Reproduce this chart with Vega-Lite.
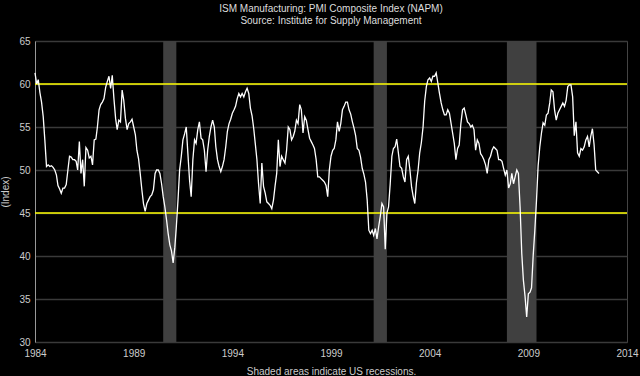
{
"$schema":"https://vega.github.io/schema/vega-lite/v6.json",
"width":592,"height":301,
"autosize":"none",
"padding":{"left":35,"top":41,"right":13,"bottom":34},
"background":"#000000",
"config":{"view":{"stroke":"#444444","strokeWidth":1},"font":"Liberation Sans"},
"title":{"text":["ISM Manufacturing: PMI Composite Index (NAPM)","Source: Institute for Supply Management"],"fontSize":10,"fontWeight":"normal","color":"#dddddd","anchor":"middle","offset":10,"lineHeight":12},
"datasets":{
"rec":[{"start":"1990-07-01","end":"1991-03-01"},{"start":"2001-03-01","end":"2001-11-01"},{"start":"2007-12-01","end":"2009-06-01"}],
"lev":[{"level":45},{"level":60}],
"pmi":[
{"d":"1984-01-01","v":61.3},{"d":"1984-02-01","v":60.0},{"d":"1984-03-01","v":60.5},{"d":"1984-04-01","v":59.0},{"d":"1984-05-01","v":57.9},{"d":"1984-06-01","v":56.2},{"d":"1984-07-01","v":53.5},{"d":"1984-08-01","v":50.4},{"d":"1984-09-01","v":50.6},{"d":"1984-10-01","v":50.4},{"d":"1984-11-01","v":50.5},{"d":"1984-12-01","v":50.3},
{"d":"1985-01-01","v":50.0},{"d":"1985-02-01","v":49.4},{"d":"1985-03-01","v":48.2},{"d":"1985-04-01","v":47.8},{"d":"1985-05-01","v":47.3},{"d":"1985-06-01","v":47.9},{"d":"1985-07-01","v":47.9},{"d":"1985-08-01","v":48.3},{"d":"1985-09-01","v":50.0},{"d":"1985-10-01","v":51.6},{"d":"1985-11-01","v":51.5},{"d":"1985-12-01","v":51.2},
{"d":"1986-01-01","v":51.2},{"d":"1986-02-01","v":51.0},{"d":"1986-03-01","v":50.0},{"d":"1986-04-01","v":53.3},{"d":"1986-05-01","v":49.6},{"d":"1986-06-01","v":51.2},{"d":"1986-07-01","v":48.1},{"d":"1986-08-01","v":52.6},{"d":"1986-09-01","v":52.3},{"d":"1986-10-01","v":51.4},{"d":"1986-11-01","v":51.6},{"d":"1986-12-01","v":50.6},
{"d":"1987-01-01","v":53.5},{"d":"1987-02-01","v":53.6},{"d":"1987-03-01","v":55.0},{"d":"1987-04-01","v":57.0},{"d":"1987-05-01","v":57.6},{"d":"1987-06-01","v":57.9},{"d":"1987-07-01","v":58.3},{"d":"1987-08-01","v":59.6},{"d":"1987-09-01","v":60.3},{"d":"1987-10-01","v":60.9},{"d":"1987-11-01","v":59.5},{"d":"1987-12-01","v":61.0},
{"d":"1988-01-01","v":58.3},{"d":"1988-02-01","v":56.0},{"d":"1988-03-01","v":54.7},{"d":"1988-04-01","v":55.8},{"d":"1988-05-01","v":55.6},{"d":"1988-06-01","v":59.3},{"d":"1988-07-01","v":58.1},{"d":"1988-08-01","v":56.0},{"d":"1988-09-01","v":54.7},{"d":"1988-10-01","v":55.4},{"d":"1988-11-01","v":55.6},{"d":"1988-12-01","v":55.9},
{"d":"1989-01-01","v":55.0},{"d":"1989-02-01","v":54.1},{"d":"1989-03-01","v":52.3},{"d":"1989-04-01","v":51.3},{"d":"1989-05-01","v":49.6},{"d":"1989-06-01","v":47.7},{"d":"1989-07-01","v":46.1},{"d":"1989-08-01","v":45.2},{"d":"1989-09-01","v":46.1},{"d":"1989-10-01","v":46.5},{"d":"1989-11-01","v":46.9},{"d":"1989-12-01","v":47.1},
{"d":"1990-01-01","v":47.7},{"d":"1990-02-01","v":49.6},{"d":"1990-03-01","v":50.0},{"d":"1990-04-01","v":50.0},{"d":"1990-05-01","v":49.6},{"d":"1990-06-01","v":48.4},{"d":"1990-07-01","v":46.9},{"d":"1990-08-01","v":45.7},{"d":"1990-09-01","v":44.2},{"d":"1990-10-01","v":42.6},{"d":"1990-11-01","v":41.3},{"d":"1990-12-01","v":40.6},
{"d":"1991-01-01","v":39.2},{"d":"1991-02-01","v":41.0},{"d":"1991-03-01","v":43.4},{"d":"1991-04-01","v":46.5},{"d":"1991-05-01","v":50.0},{"d":"1991-06-01","v":51.6},{"d":"1991-07-01","v":53.5},{"d":"1991-08-01","v":54.2},{"d":"1991-09-01","v":55.0},{"d":"1991-10-01","v":51.9},{"d":"1991-11-01","v":48.8},{"d":"1991-12-01","v":46.9},
{"d":"1992-01-01","v":51.2},{"d":"1992-02-01","v":53.5},{"d":"1992-03-01","v":53.1},{"d":"1992-04-01","v":54.7},{"d":"1992-05-01","v":55.6},{"d":"1992-06-01","v":53.7},{"d":"1992-07-01","v":53.5},{"d":"1992-08-01","v":52.3},{"d":"1992-09-01","v":49.8},{"d":"1992-10-01","v":52.3},{"d":"1992-11-01","v":53.9},{"d":"1992-12-01","v":55.0},
{"d":"1993-01-01","v":55.8},{"d":"1993-02-01","v":55.0},{"d":"1993-03-01","v":52.7},{"d":"1993-04-01","v":51.2},{"d":"1993-05-01","v":50.4},{"d":"1993-06-01","v":49.8},{"d":"1993-07-01","v":50.4},{"d":"1993-08-01","v":51.2},{"d":"1993-09-01","v":52.7},{"d":"1993-10-01","v":54.5},{"d":"1993-11-01","v":55.4},{"d":"1993-12-01","v":55.9},
{"d":"1994-01-01","v":56.6},{"d":"1994-02-01","v":57.0},{"d":"1994-03-01","v":57.4},{"d":"1994-04-01","v":58.3},{"d":"1994-05-01","v":58.9},{"d":"1994-06-01","v":58.5},{"d":"1994-07-01","v":58.9},{"d":"1994-08-01","v":58.5},{"d":"1994-09-01","v":59.1},{"d":"1994-10-01","v":59.5},{"d":"1994-11-01","v":58.9},{"d":"1994-12-01","v":57.2},
{"d":"1995-01-01","v":56.3},{"d":"1995-02-01","v":54.8},{"d":"1995-03-01","v":53.1},{"d":"1995-04-01","v":51.2},{"d":"1995-05-01","v":48.4},{"d":"1995-06-01","v":46.1},{"d":"1995-07-01","v":50.8},{"d":"1995-08-01","v":48.1},{"d":"1995-09-01","v":47.3},{"d":"1995-10-01","v":46.3},{"d":"1995-11-01","v":46.1},{"d":"1995-12-01","v":45.9},
{"d":"1996-01-01","v":45.5},{"d":"1996-02-01","v":46.5},{"d":"1996-03-01","v":48.1},{"d":"1996-04-01","v":49.6},{"d":"1996-05-01","v":53.5},{"d":"1996-06-01","v":50.4},{"d":"1996-07-01","v":51.6},{"d":"1996-08-01","v":51.2},{"d":"1996-09-01","v":50.8},{"d":"1996-10-01","v":52.3},{"d":"1996-11-01","v":55.0},{"d":"1996-12-01","v":54.7},
{"d":"1997-01-01","v":53.5},{"d":"1997-02-01","v":53.9},{"d":"1997-03-01","v":54.5},{"d":"1997-04-01","v":55.8},{"d":"1997-05-01","v":55.4},{"d":"1997-06-01","v":57.6},{"d":"1997-07-01","v":57.0},{"d":"1997-08-01","v":54.3},{"d":"1997-09-01","v":56.2},{"d":"1997-10-01","v":55.8},{"d":"1997-11-01","v":54.7},{"d":"1997-12-01","v":53.7},
{"d":"1998-01-01","v":53.3},{"d":"1998-02-01","v":52.9},{"d":"1998-03-01","v":52.5},{"d":"1998-04-01","v":51.2},{"d":"1998-05-01","v":49.2},{"d":"1998-06-01","v":49.2},{"d":"1998-07-01","v":49.0},{"d":"1998-08-01","v":48.8},{"d":"1998-09-01","v":48.6},{"d":"1998-10-01","v":48.2},{"d":"1998-11-01","v":46.9},{"d":"1998-12-01","v":50.0},
{"d":"1999-01-01","v":51.6},{"d":"1999-02-01","v":52.3},{"d":"1999-03-01","v":52.5},{"d":"1999-04-01","v":53.5},{"d":"1999-05-01","v":55.6},{"d":"1999-06-01","v":54.5},{"d":"1999-07-01","v":55.4},{"d":"1999-08-01","v":57.0},{"d":"1999-09-01","v":57.4},{"d":"1999-10-01","v":57.9},{"d":"1999-11-01","v":57.9},{"d":"1999-12-01","v":57.0},
{"d":"2000-01-01","v":56.5},{"d":"2000-02-01","v":55.6},{"d":"2000-03-01","v":54.9},{"d":"2000-04-01","v":54.0},{"d":"2000-05-01","v":52.5},{"d":"2000-06-01","v":52.3},{"d":"2000-07-01","v":51.5},{"d":"2000-08-01","v":50.2},{"d":"2000-09-01","v":49.5},{"d":"2000-10-01","v":48.6},{"d":"2000-11-01","v":46.5},{"d":"2000-12-01","v":43.0},
{"d":"2001-01-01","v":42.6},{"d":"2001-02-01","v":43.0},{"d":"2001-03-01","v":42.4},{"d":"2001-04-01","v":43.2},{"d":"2001-05-01","v":42.0},{"d":"2001-06-01","v":43.4},{"d":"2001-07-01","v":44.6},{"d":"2001-08-01","v":46.1},{"d":"2001-09-01","v":45.7},{"d":"2001-10-01","v":40.8},{"d":"2001-11-01","v":45.0},{"d":"2001-12-01","v":45.7},
{"d":"2002-01-01","v":48.4},{"d":"2002-02-01","v":51.6},{"d":"2002-03-01","v":52.5},{"d":"2002-04-01","v":52.7},{"d":"2002-05-01","v":53.6},{"d":"2002-06-01","v":52.0},{"d":"2002-07-01","v":50.4},{"d":"2002-08-01","v":50.2},{"d":"2002-09-01","v":49.2},{"d":"2002-10-01","v":48.6},{"d":"2002-11-01","v":51.2},{"d":"2002-12-01","v":51.6},
{"d":"2003-01-01","v":50.0},{"d":"2003-02-01","v":48.0},{"d":"2003-03-01","v":47.0},{"d":"2003-04-01","v":46.1},{"d":"2003-05-01","v":48.5},{"d":"2003-06-01","v":50.0},{"d":"2003-07-01","v":52.0},{"d":"2003-08-01","v":53.2},{"d":"2003-09-01","v":55.0},{"d":"2003-10-01","v":58.0},{"d":"2003-11-01","v":59.7},{"d":"2003-12-01","v":60.5},
{"d":"2004-01-01","v":60.7},{"d":"2004-02-01","v":60.3},{"d":"2004-03-01","v":60.9},{"d":"2004-04-01","v":60.9},{"d":"2004-05-01","v":61.3},{"d":"2004-06-01","v":60.1},{"d":"2004-07-01","v":58.9},{"d":"2004-08-01","v":57.8},{"d":"2004-09-01","v":57.0},{"d":"2004-10-01","v":56.4},{"d":"2004-11-01","v":56.4},{"d":"2004-12-01","v":57.0},
{"d":"2005-01-01","v":56.6},{"d":"2005-02-01","v":55.4},{"d":"2005-03-01","v":54.3},{"d":"2005-04-01","v":53.1},{"d":"2005-05-01","v":51.2},{"d":"2005-06-01","v":52.5},{"d":"2005-07-01","v":52.9},{"d":"2005-08-01","v":55.4},{"d":"2005-09-01","v":57.0},{"d":"2005-10-01","v":57.2},{"d":"2005-11-01","v":56.4},{"d":"2005-12-01","v":55.6},
{"d":"2006-01-01","v":55.4},{"d":"2006-02-01","v":55.0},{"d":"2006-03-01","v":55.2},{"d":"2006-04-01","v":54.7},{"d":"2006-05-01","v":52.3},{"d":"2006-06-01","v":53.5},{"d":"2006-07-01","v":53.1},{"d":"2006-08-01","v":51.9},{"d":"2006-09-01","v":51.6},{"d":"2006-10-01","v":51.2},{"d":"2006-11-01","v":50.6},{"d":"2006-12-01","v":49.6},
{"d":"2007-01-01","v":51.2},{"d":"2007-02-01","v":51.6},{"d":"2007-03-01","v":52.3},{"d":"2007-04-01","v":52.7},{"d":"2007-05-01","v":52.5},{"d":"2007-06-01","v":52.3},{"d":"2007-07-01","v":51.2},{"d":"2007-08-01","v":51.2},{"d":"2007-09-01","v":51.0},{"d":"2007-10-01","v":50.2},{"d":"2007-11-01","v":49.4},{"d":"2007-12-01","v":50.0},
{"d":"2008-01-01","v":47.9},{"d":"2008-02-01","v":48.4},{"d":"2008-03-01","v":49.6},{"d":"2008-04-01","v":48.4},{"d":"2008-05-01","v":49.2},{"d":"2008-06-01","v":50.0},{"d":"2008-07-01","v":49.6},{"d":"2008-08-01","v":45.7},{"d":"2008-09-01","v":40.3},{"d":"2008-10-01","v":37.2},{"d":"2008-11-01","v":35.3},{"d":"2008-12-01","v":32.9},
{"d":"2009-01-01","v":35.6},{"d":"2009-02-01","v":35.8},{"d":"2009-03-01","v":36.3},{"d":"2009-04-01","v":40.1},{"d":"2009-05-01","v":43.0},{"d":"2009-06-01","v":46.5},{"d":"2009-07-01","v":50.5},{"d":"2009-08-01","v":52.7},{"d":"2009-09-01","v":54.3},{"d":"2009-10-01","v":55.5},{"d":"2009-11-01","v":55.2},{"d":"2009-12-01","v":56.4},
{"d":"2010-01-01","v":56.6},{"d":"2010-02-01","v":57.8},{"d":"2010-03-01","v":59.3},{"d":"2010-04-01","v":59.1},{"d":"2010-05-01","v":57.0},{"d":"2010-06-01","v":55.8},{"d":"2010-07-01","v":56.6},{"d":"2010-08-01","v":57.0},{"d":"2010-09-01","v":57.4},{"d":"2010-10-01","v":57.8},{"d":"2010-11-01","v":57.4},{"d":"2010-12-01","v":58.1},
{"d":"2011-01-01","v":59.7},{"d":"2011-02-01","v":59.9},{"d":"2011-03-01","v":59.9},{"d":"2011-04-01","v":58.5},{"d":"2011-05-01","v":54.0},{"d":"2011-06-01","v":55.6},{"d":"2011-07-01","v":52.0},{"d":"2011-08-01","v":51.6},{"d":"2011-09-01","v":52.5},{"d":"2011-10-01","v":52.3},{"d":"2011-11-01","v":52.7},{"d":"2011-12-01","v":53.5},
{"d":"2012-01-01","v":53.9},{"d":"2012-02-01","v":52.7},{"d":"2012-03-01","v":53.9},{"d":"2012-04-01","v":54.8},{"d":"2012-05-01","v":53.0},{"d":"2012-06-01","v":50.0},{"d":"2012-07-01","v":49.8},{"d":"2012-08-01","v":49.6}
]},
"layer":[
{"data":{"name":"rec"},"mark":{"type":"rect","color":"#404040"},
 "encoding":{
  "x":{"field":"start","type":"temporal","scale":{"type":"utc","domain":[{"year":1984,"month":1,"date":1,"utc":true},{"year":2014,"month":1,"date":1,"utc":true}]},
   "axis":{"values":[{"year":1984,"utc":true},{"year":1989,"utc":true},{"year":1994,"utc":true},{"year":1999,"utc":true},{"year":2004,"utc":true},{"year":2009,"utc":true},{"year":2014,"utc":true}],"format":"%Y","labelColor":"#cccccc","labelFontSize":10,"labelPadding":6,"ticks":false,"domain":false,"grid":false,"labelFlush":false,"labelOverlap":false,"title":"Shaded areas indicate US recessions.","titleColor":"#cccccc","titleFontSize":10,"titleFontWeight":"normal","titlePadding":8}},
  "x2":{"field":"end"}}},
{"data":{"name":"lev"},"mark":{"type":"rule","color":"#ffff00","strokeWidth":1.5},
 "encoding":{
  "y":{"field":"level","type":"quantitative","scale":{"domain":[30,65],"nice":false,"zero":false},
   "axis":{"values":[30,35,40,45,50,55,60,65],"labelColor":"#cccccc","labelFontSize":10,"labelPadding":5,"ticks":false,"domainColor":"#999999","gridColor":"#3a3a3a","gridWidth":1.5,"title":"(Index)","titleColor":"#cccccc","titleFontSize":10,"titleFontWeight":"normal","titlePadding":8}}}},
{"data":{"name":"pmi"},"mark":{"type":"line","color":"#ffffff","strokeWidth":1.3},
 "encoding":{
  "x":{"field":"d","type":"temporal"},
  "y":{"field":"v","type":"quantitative"}}}
]
}
